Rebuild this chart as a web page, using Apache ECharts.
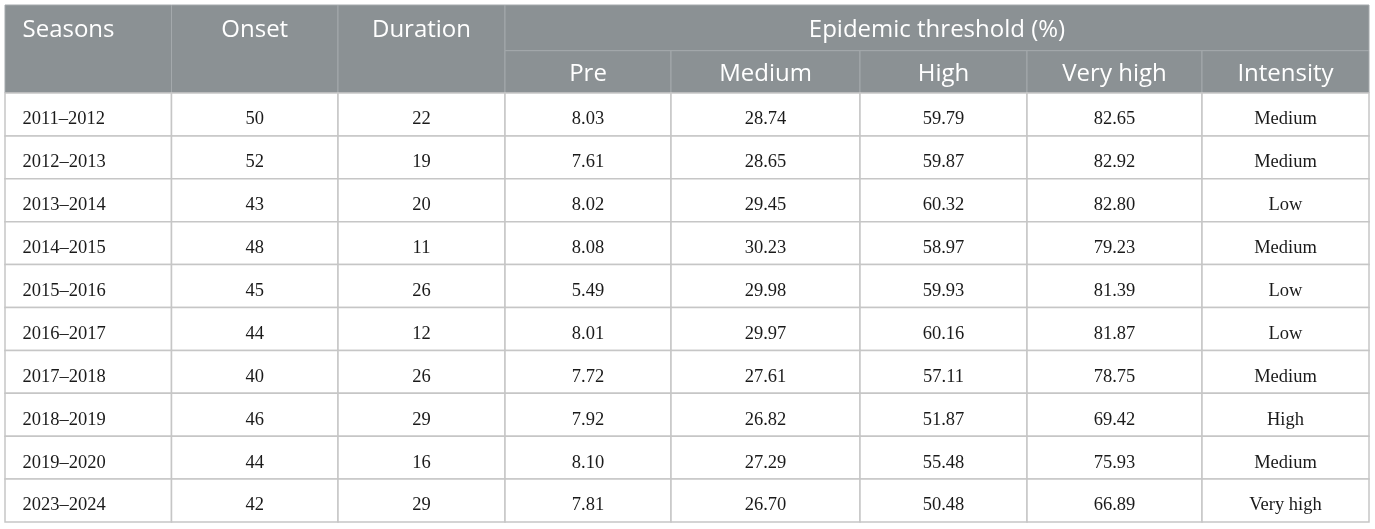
<!DOCTYPE html>
<html><head><meta charset="utf-8">
<script src="https://cdn.jsdelivr.net/npm/echarts@6/dist/echarts.min.js"></script>
<style>html,body{margin:0;padding:0;background:#fff}#c{width:1375px;height:529px}</style>
</head><body><div id="c"></div>
<script>
// ---- data ----
const seasons   = ['2011–2012','2012–2013','2013–2014','2014–2015','2015–2016','2016–2017','2017–2018','2018–2019','2019–2020','2023–2024'];
const onset     = [50, 52, 43, 48, 45, 44, 40, 46, 44, 42];
const duration  = [22, 19, 20, 11, 26, 12, 26, 29, 16, 29];
const pre       = [8.03, 7.61, 8.02, 8.08, 5.49, 8.01, 7.72, 7.92, 8.10, 7.81];
const medium    = [28.74, 28.65, 29.45, 30.23, 29.98, 29.97, 27.61, 26.82, 27.29, 26.70];
const high      = [59.79, 59.87, 60.32, 58.97, 59.93, 60.16, 57.11, 51.87, 55.48, 50.48];
const veryHigh  = [82.65, 82.92, 82.80, 79.23, 81.39, 81.87, 78.75, 69.42, 75.93, 66.89];
const intensity = ['Medium','Medium','Low','Medium','Low','Low','Medium','High','Medium','Very high'];
const topHeaders = ['Seasons', 'Onset', 'Duration', 'Epidemic threshold (%)'];
const subHeaders = ['Pre', 'Medium', 'High', 'Very high', 'Intensity'];

// ---- layout (table units on the value axes) ----
const colEdges = [0, 166.5, 333, 500, 666, 855, 1022, 1197, 1364];
const headSplit = 45.7, headBottom = 88, rowH = 42.9;
const totalH = headBottom + rowH * seasons.length;

// ---- build cells ----
const cells = [];
for (let c = 0; c < 3; c++) {
  cells.push({x0: colEdges[c], x1: colEdges[c+1], y0: 0, y1: headBottom, ty0: 0, ty1: headSplit,
    text: topHeaders[c], head: true, align: c === 0 ? 'left' : 'center'});
}
cells.push({x0: colEdges[3], x1: colEdges[8], y0: 0, y1: headSplit, ty0: 0, ty1: headSplit,
  text: topHeaders[3], head: true, align: 'center'});
subHeaders.forEach((h, i) => {
  cells.push({x0: colEdges[3+i], x1: colEdges[4+i], y0: headSplit, y1: headBottom, ty0: headSplit, ty1: headBottom,
    text: h, head: true, align: 'center'});
});
seasons.forEach((s, r) => {
  const vals = [s, String(onset[r]), String(duration[r]), pre[r].toFixed(2), medium[r].toFixed(2),
    high[r].toFixed(2), veryHigh[r].toFixed(2), intensity[r]];
  const y0 = headBottom + r * rowH, y1 = y0 + rowH;
  vals.forEach((v, c) => {
    cells.push({x0: colEdges[c], x1: colEdges[c+1], y0, y1, ty0: y0, ty1: y1,
      text: v, head: false, align: c === 0 ? 'left' : 'center'});
  });
});

const chart = echarts.init(document.getElementById('c'), null, {renderer: 'canvas'});
chart.setOption({
  animation: false,
  grid: {left: 5, top: 5, width: 1364, height: 517, show: false},
  xAxis: {type: 'value', min: 0, max: 1364, show: false},
  yAxis: {type: 'value', min: 0, max: totalH, inverse: true, show: false},
  series: [{
    type: 'custom',
    coordinateSystem: 'cartesian2d',
    silent: true,
    data: cells.map(c => [c.x0, c.y0, c.x1, c.y1]),
    renderItem: function (params, api) {
      const c = cells[params.dataIndex];
      const p0 = api.coord([api.value(0), api.value(1)]);
      const p1 = api.coord([api.value(2), api.value(3)]);
      const t0 = api.coord([c.x0, c.ty0]);
      const t1 = api.coord([c.x1, c.ty1]);
      const tx = c.align === 'left' ? p0[0] + 17.5 : (p0[0] + p1[0]) / 2;
      const ty = (t0[1] + t1[1]) / 2 + (c.head ? 2 : 5);
      return {
        type: 'group',
        children: [
          {type: 'rect', shape: {x: p0[0], y: p0[1], width: p1[0] - p0[0], height: p1[1] - p0[1]},
           style: {fill: c.head ? '#8b9194' : '#ffffff', stroke: c.head ? '#a4a9ac' : '#c6c6c6', lineWidth: c.head ? 1 : 1.5}},
          {type: 'text', style: {text: c.text, x: tx, y: ty, align: c.align, verticalAlign: 'middle',
            fill: c.head ? '#ffffff' : '#1a1a1a',
            font: c.head ? '24px "Open Sans"' : '18.5px "Liberation Serif"'}}
        ]
      };
    }
  }]
});
</script>
</body></html>
